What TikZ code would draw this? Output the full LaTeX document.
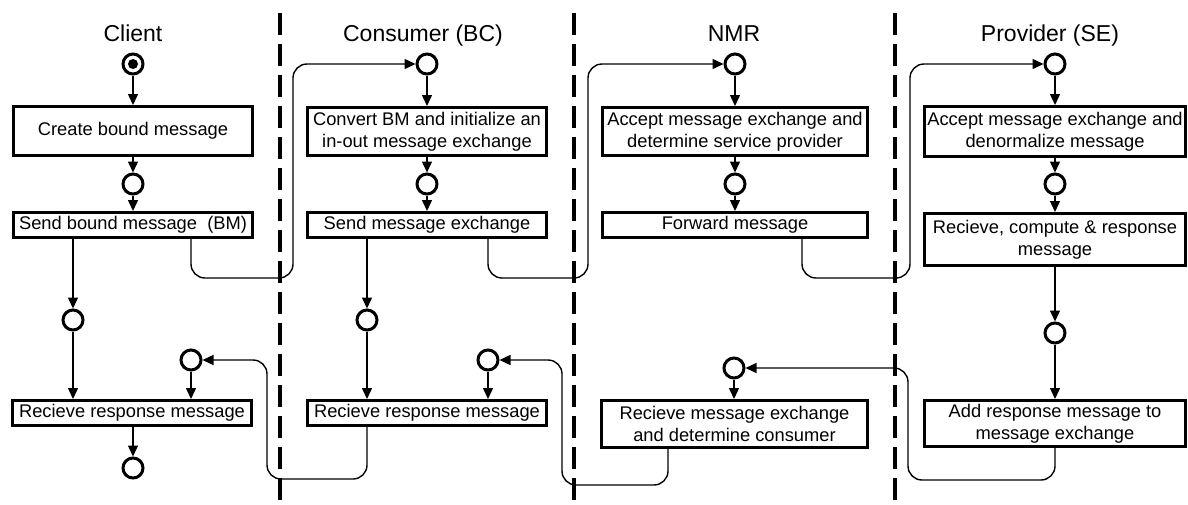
\documentclass[tikz,border=0pt]{standalone}
\usepackage{fontspec}
\setmainfont{Liberation Sans}
\usetikzlibrary{arrows.meta}
\begin{document}
\begin{tikzpicture}[x=1pt,y=-1pt,
  box/.style={draw, line width=3pt, fill=white, inner sep=0pt, align=center,
              font=\fontsize{18.3}{22}\selectfont},
  state/.style={draw, circle, line width=3pt, minimum size=20pt, inner sep=0pt, fill=white},
  flow/.style={line width=1.4pt, -{Triangle[length=11pt,width=10pt]}},
  link/.style={flow, rounded corners=14pt},
  lane/.style={line width=3.2pt, dash pattern=on 22pt off 9pt},
  title/.style={font=\fontsize{23}{28}\selectfont, anchor=base}]
\useasboundingbox (0,0) rectangle (1188,504);

% swimlane separators
\draw[lane] (280,13) -- (280,504);
\draw[lane] (574,13) -- (574,504);
\draw[lane] (895,13) -- (895,504);

% lane titles
\node[title] (tClient)   at (133,41)  {Client};
\node[title] (tConsumer) at (423,41)  {Consumer (BC)};
\node[title] (tNMR)      at (734,41)  {NMR};
\node[title] (tProvider) at (1050,41) {Provider (SE)};

% routing points of the cross-lane connectors
\coordinate (loopA) at (293,278);
\coordinate (loopB) at (588,278);
\coordinate (nOut)  at (802,278);
\coordinate (loopC) at (910,278);
\coordinate (backA) at (908,480);
\coordinate (nBack) at (668,485);
\coordinate (backB) at (562,485);
\coordinate (backC) at (267,479);

% Client
\node[state] (cS) at (133,64) {};
\fill (cS) circle (5pt);
\node[box, minimum width=239pt, minimum height=49pt] (cCreate) at (133,131) {Create bound message};
\node[state] (cC1) at (133,184) {};
\node[box, minimum width=239pt, minimum height=25pt] (cSend) at (133,225) {Send bound message~~(BM)};
\node[state] (cC2) at (73,320) {};
\node[state] (cC3) at (191,360) {};
\node[box, minimum width=239pt, minimum height=25pt] (cRecv) at (132,413) {Recieve response message};
\node[state] (cEnd) at (133,468) {};

% Consumer (BC)
\node[state] (bTop) at (427,64) {};
\node[box, minimum width=239pt, minimum height=48pt] (bConv) at (427,131.5) {Convert BM and initialize an\\in-out message exchange};
\node[state] (bC1) at (427,184) {};
\node[box, minimum width=239pt, minimum height=25pt] (bSend) at (427,225) {Send message exchange};
\node[state] (bC2) at (367,320) {};
\node[state] (bC3) at (488,360) {};
\node[box, minimum width=239pt, minimum height=25pt] (bRecv) at (427,413) {Recieve response message};

% NMR
\node[state] (nTop) at (735,64) {};
\node[box, minimum width=265pt, minimum height=48pt] (nAccept) at (735,131.5) {Accept message exchange and\\determine service provider};
\node[state] (nC1) at (735,184) {};
\node[box, minimum width=265pt, minimum height=25pt] (nFwd) at (735,225) {Forward message};
\node[state] (nC3) at (734,368) {};
\node[box, minimum width=266pt, minimum height=47pt] (nRecv) at (734.5,424) {Recieve message exchange\\and determine consumer};

% Provider (SE)
\node[state] (pTop) at (1055,64) {};
\node[box, minimum width=261pt, minimum height=50pt] (pAccept) at (1055,131.5) {Accept message exchange and\\denormalize message};
\node[state] (pC1) at (1055,184) {};
\node[box, minimum width=261pt, minimum height=52pt] (pRecv) at (1055,239.5) {Recieve, compute \& response\\message};
\node[state] (pC2) at (1055,333) {};
\node[box, minimum width=261pt, minimum height=46pt] (pAdd) at (1055,423.5) {Add response message to\\message exchange};

% flow inside the Client lane
\draw[flow] (cS) -- (cCreate);
\draw[flow] (cCreate) -- (cC1);
\draw[flow] (cC1) -- (cSend);
\draw[flow] (cSend.south -| cC2) -- (cC2);
\draw[flow] (cC2) -- (cRecv.north -| cC2);
\draw[flow] (cC3) -- (cRecv.north -| cC3);
\draw[flow] (cRecv.south -| cEnd) -- (cEnd);

% flow inside the Consumer lane
\draw[flow] (bTop) -- (bConv);
\draw[flow] (bConv) -- (bC1);
\draw[flow] (bC1) -- (bSend);
\draw[flow] (bSend.south -| bC2) -- (bC2);
\draw[flow] (bC2) -- (bRecv.north -| bC2);
\draw[flow] (bC3) -- (bRecv.north -| bC3);

% flow inside the NMR lane
\draw[flow] (nTop) -- (nAccept);
\draw[flow] (nAccept) -- (nC1);
\draw[flow] (nC1) -- (nFwd);
\draw[flow] (nC3) -- (nRecv.north -| nC3);

% flow inside the Provider lane
\draw[flow] (pTop) -- (pAccept);
\draw[flow] (pAccept) -- (pC1);
\draw[flow] (pC1) -- (pRecv);
\draw[flow] (pRecv) -- (pC2);
\draw[flow] (pC2) -- (pAdd);

% requests crossing the lanes
\draw[link] (cSend.south -| cC3) |- (loopA) |- (bTop.west);
\draw[link] (bSend.south -| bC3) |- (loopB) |- (nTop.west);
\draw[link] (nFwd.south -| nOut) -- (nOut) -- (loopC) |- (pTop.west);

% responses crossing back
\draw[link] (pAdd.south) |- (backA) |- (nC3.east);
\draw[link] (nRecv.south -| nBack) |- (backB) |- (bC3.east);
\draw[link] (bRecv.south -| bC2) |- (backC) |- (cC3.east);
\end{tikzpicture}
\end{document}
